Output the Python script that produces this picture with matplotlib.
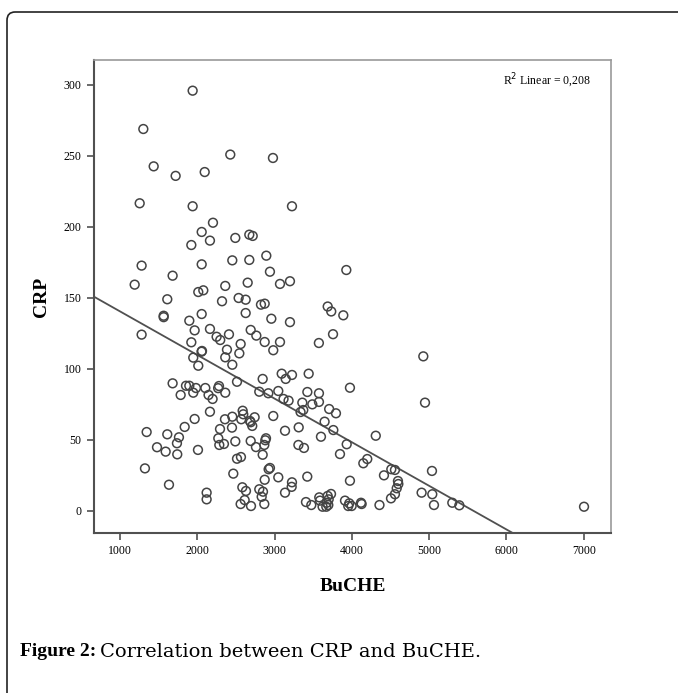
import matplotlib
matplotlib.use("Agg")
import matplotlib.pyplot as plt
from matplotlib.patches import FancyBboxPatch
import numpy as np

# BuCHE (x) and CRP (y) values
buche = [1940, 1302, 2427, 2979, 1436, 1720, 2096, 1255, 1940, 3225,
         2203, 2057, 1923, 2164, 2492, 2673, 2717, 2893, 2453, 2673,
         2057, 1280, 1681, 2940, 3928, 1190, 2652, 3070, 3199, 2362,
         2013, 2078, 1612, 2535, 2626, 2320, 2824, 2872, 1565, 1565,
         2057, 2626, 2958, 3199, 1897, 3687, 3733, 3889, 3756, 1280,
         1966, 2164, 2250, 2297, 2410, 2691, 2764, 2872, 3070, 2983,
         3573, 1923, 2561, 2384, 2061, 2055, 2544, 1948, 2362, 4924,
         2013, 2453, 2846, 3092, 3144, 3225, 3441, 1681, 1854, 1897,
         2281, 2270, 2514, 3975, 1983, 2104, 2362, 1785, 1948, 2146,
         2198, 2802, 2919, 3048, 3116, 3181, 3359, 3424, 3574, 3488,
         3574, 3336, 3371, 3706, 3794, 3647, 3760, 3600, 3846, 2164,
         2453, 2587, 2595, 2569, 2682, 2691, 2742, 2711, 2358, 2983,
         1966, 1837, 2294, 2449, 3135, 3312, 1345, 1612, 1763, 1737,
         1479, 1591, 1741, 2009, 2272, 2285, 2345, 2492, 2691, 2759,
         2880, 2889, 2867, 2846, 3308, 3380, 2514, 2565, 2923, 2940,
         1323, 2466, 3048, 3423, 3225, 3221, 2872, 1634, 2121, 2121,
         2583, 2630, 2802, 2850, 2833, 3135, 2613, 2561, 2695, 2867,
         3406, 3475, 3578, 3587, 3621, 3687, 3700, 3674, 3695, 3730,
         3669, 4309, 3933, 4148, 4199, 4510, 4557, 4415, 5036, 3975,
         4596, 4601, 4580, 4557, 4506, 4902, 5040, 5062, 5299, 5390,
         4357, 3911, 3966, 3953, 3997, 4118, 4126, 7003, 4946]
crp = [296, 269, 251, 248.6, 242.7, 236, 238.7, 216.7, 214.6, 214.6,
       203, 196.5, 187.3, 190.4, 192.3, 194.6, 193.7, 179.8, 176.5, 176.8,
       173.7, 172.8, 165.7, 168.5, 169.7, 159.4, 160.8, 159.9, 161.8, 158.5,
       154.2, 155.4, 149.1, 150, 148.8, 147.7, 145.3, 146, 137.5, 136.5,
       138.7, 139.4, 135.4, 133, 134, 144, 140.5, 137.8, 124.5, 124.2,
       127.2, 128.2, 122.7, 120.4, 124.4, 127.5, 123.5, 119, 119, 113.2,
       118.3, 118.8, 117.6, 113.6, 112.7, 112.2, 111, 108, 108.2, 108.9,
       102.3, 103, 93, 96.7, 93, 95.8, 96.7, 89.9, 88.2, 88.2,
       88, 86.5, 91, 86.8, 86.6, 86.6, 83.3, 81.7, 83.3, 81.7,
       78.9, 84, 82.9, 84.5, 78.9, 77.7, 76.3, 83.8, 82.9, 75.1,
       76.8, 69.7, 71.1, 71.8, 68.8, 62.9, 57, 52.3, 40.1, 69.9,
       66.4, 70.6, 68.1, 64.6, 63.4, 62.5, 66, 59.9, 64.6, 66.9,
       64.8, 59.2, 57.7, 58.7, 56.5, 58.9, 55.6, 54, 51.9, 47.7,
       44.9, 41.8, 39.9, 43, 51.2, 46.5, 47.2, 49, 49.3, 45,
       49.8, 51.2, 46.5, 39.6, 46.5, 44.4, 36.8, 38, 29.4, 30.3,
       30, 26.3, 23.7, 24.2, 20.2, 17, 22, 18.5, 12.9, 8.2,
       16.7, 14.1, 15.3, 13.6, 10, 12.9, 7.7, 4.9, 3.5, 4.9,
       6.3, 4.2, 9.6, 7.3, 3, 10.6, 8.2, 5.8, 4.2, 12,
       3, 53, 47, 33.6, 36.6, 29.4, 28.9, 25.1, 28.2, 21.3,
       21.1, 19, 16, 11.8, 8.9, 12.9, 11.8, 4.2, 5.8, 4,
       4.2, 7.3, 5.4, 3.5, 3.5, 5.8, 4.9, 3, 76.3]

# fit line as printed in the chart
fit_intercept = 171.3
fit_slope = -0.03072
r2_label = "R$^2$ Linear = 0,208"

x_ticks = [1000, 2000, 3000, 4000, 5000, 6000, 7000]
y_ticks = [0, 50, 100, 150, 200, 250, 300]

serif = ["Liberation Serif", "DejaVu Serif"]
dark = "#505050"

fig = plt.figure(figsize=(6.78, 6.93), dpi=100)

# outer rounded frame of the figure box
box = FancyBboxPatch((7 / 678, -0.05), 1.2, 0.05 + (693 - 12) / 693,
                     boxstyle="round,pad=0,rounding_size=0.012",
                     transform=fig.transFigure, fill=False,
                     edgecolor="#222222", linewidth=1.2)
fig.patches.append(box)

ax = fig.add_axes([94 / 678, 1 - 533 / 693, (611 - 94) / 678, (533 - 60) / 693])
xmin, xmax = 664, 7352
ax.set_xlim(xmin, xmax)
ax.set_ylim(-15.5, 317.6)

ax.scatter(buche, crp, s=40, facecolors="none", edgecolors="#444444",
           linewidths=1.1, zorder=3)

xs = np.array([xmin, xmax])
ax.plot(xs, fit_intercept + fit_slope * xs, color=dark, linewidth=1.3, zorder=2)

ax.set_xticks(x_ticks)
ax.set_yticks(y_ticks)
ax.tick_params(direction="out", length=5, width=1.2, color=dark,
               labelsize=8.5, pad=4)
for lab in ax.get_xticklabels() + ax.get_yticklabels():
    lab.set_family(serif)

for side in ["left", "bottom"]:
    ax.spines[side].set_color(dark)
    ax.spines[side].set_linewidth(1.5)
for side in ["top", "right"]:
    ax.spines[side].set_color("#9a9a9a")
    ax.spines[side].set_linewidth(1.2)

ax.set_xlabel("BuCHE", family=serif, fontsize=14, fontweight="bold", labelpad=15)
ax.set_ylabel("CRP", family=serif, fontsize=14, fontweight="bold", labelpad=10)
ax.text(0.96, 0.955, r2_label, transform=ax.transAxes, ha="right", va="center",
        family=serif, fontsize=8.5)

fig.text(20 / 678, 1 - 652 / 693, "Figure 2:", family=serif, fontsize=14,
         fontweight="bold", va="center", ha="left")
fig.text(100 / 678, 1 - 652 / 693, "Correlation between CRP and BuCHE.",
         family=["DejaVu Serif"], fontsize=14, va="center", ha="left")

fig.savefig("out.png", dpi=100)
